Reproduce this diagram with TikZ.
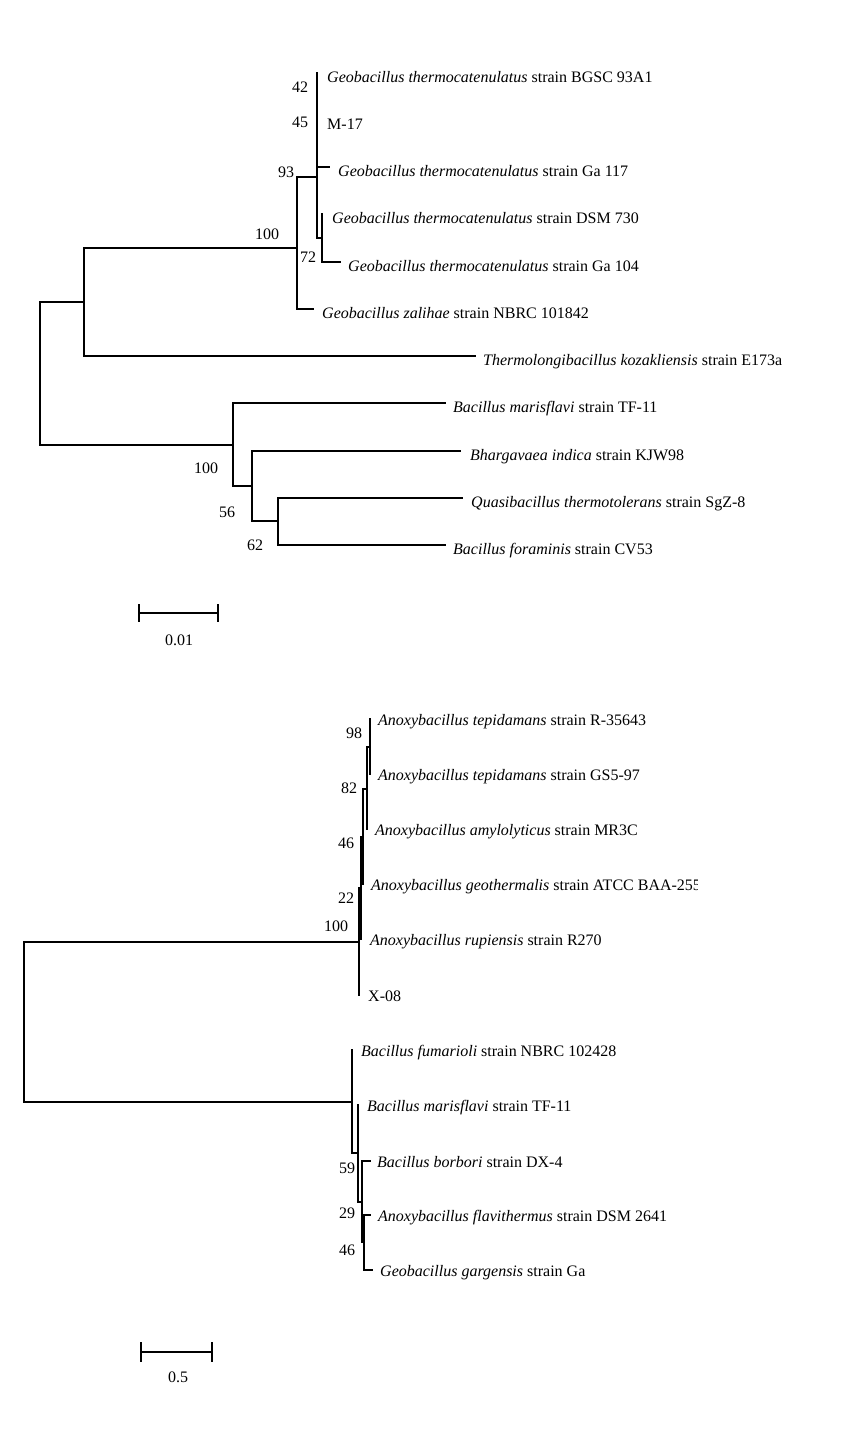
\documentclass[tikz,border=0pt]{standalone}
\usepackage{fontspec}
\setmainfont{Liberation Serif}
\begin{document}
\begin{tikzpicture}[x=1pt,y=-1pt,
  br/.style={line width=1.8pt, line cap=rect},
  leaf/.style={inner sep=0pt, anchor=base west, font=\fontsize{16}{19}\selectfont},
  boot/.style={inner sep=0pt, font=\fontsize{16}{19}\selectfont},
  scalebar/.style={line width=1.8pt}]
\useasboundingbox (0,0) rectangle (856,1452);
% ---------------- top tree ----------------
\coordinate (r) at (40,373);
\coordinate (a) at (84,302);
\coordinate (n100) at (297,248);
\coordinate (n93) at (317,177);
\coordinate (n45) at (317,140);
\coordinate (n42) at (317,96);
\coordinate (n72) at (322,238);
\coordinate (b) at (233,445);
\coordinate (n56) at (252,486);
\coordinate (n62) at (278,521);
\coordinate (t1) at (317,73);
\coordinate (t2) at (317,120);
\coordinate (t3) at (329,167);
\coordinate (t4) at (322,214);
\coordinate (t5) at (340,262);
\coordinate (t6) at (313,309);
\coordinate (t7) at (475,356);
\coordinate (t8) at (445,403);
\coordinate (t9) at (460,451);
\coordinate (t10) at (462,498);
\coordinate (t11) at (445,545);
\draw[br] (r) |- (a);
\draw[br] (r) |- (b);
\draw[br] (a) |- (n100);
\draw[br] (a) |- (t7);
\draw[br] (n100) |- (n93);
\draw[br] (n100) |- (t6);
\draw[br] (n93) |- (n45);
\draw[br] (n93) |- (n72);
\draw[br] (n45) |- (n42);
\draw[br] (n45) |- (t3);
\draw[br] (n42) |- (t1);
\draw[br] (n42) |- (t2);
\draw[br] (n72) |- (t4);
\draw[br] (n72) |- (t5);
\draw[br] (b) |- (t8);
\draw[br] (b) |- (n56);
\draw[br] (n56) |- (t9);
\draw[br] (n56) |- (n62);
\draw[br] (n62) |- (t10);
\draw[br] (n62) |- (t11);
\node[leaf] (l1) at ([xshift=10pt,yshift=-9pt]t1) {\textit{Geobacillus thermocatenulatus} strain BGSC 93A1};
\node[leaf] (l2) at ([xshift=10pt,yshift=-9pt]t2) {M-17};
\node[leaf] (l3) at ([xshift=9pt,yshift=-9pt]t3) {\textit{Geobacillus thermocatenulatus} strain Ga 117};
\node[leaf] (l4) at ([xshift=10pt,yshift=-9pt]t4) {\textit{Geobacillus thermocatenulatus} strain DSM 730};
\node[leaf] (l5) at ([xshift=8pt,yshift=-9pt]t5) {\textit{Geobacillus thermocatenulatus} strain Ga 104};
\node[leaf] (l6) at ([xshift=9pt,yshift=-9pt]t6) {\textit{Geobacillus zalihae} strain NBRC 101842};
\node[leaf] (l7) at ([xshift=8pt,yshift=-9pt]t7) {\textit{Thermolongibacillus kozakliensis} strain E173a};
\node[leaf] (l8) at ([xshift=8pt,yshift=-9pt]t8) {\textit{Bacillus marisflavi} strain TF-11};
\node[leaf] (l9) at ([xshift=10pt,yshift=-9pt]t9) {\textit{Bhargavaea indica} strain KJW98};
\node[leaf] (l10) at ([xshift=9pt,yshift=-9pt]t10) {\textit{Quasibacillus thermotolerans} strain SgZ-8};
\node[leaf] (l11) at ([xshift=8pt,yshift=-9pt]t11) {\textit{Bacillus foraminis} strain CV53};
\node[boot] (b42) at (300,87) {42};
\node[boot] (b45) at (300,122) {45};
\node[boot] (b93) at (286,172) {93};
\node[boot] (b100a) at (267,234) {100};
\node[boot] (b72) at (308,257) {72};
\node[boot] (b100b) at (206,468) {100};
\node[boot] (b56) at (227,512) {56};
\node[boot] (b62) at (255,545) {62};
% scale bar top
\coordinate (s1a) at (139,613);
\coordinate (s1b) at (218,613);
\draw[scalebar] (s1a) -- (s1b);
\draw[scalebar] ([yshift=9pt]s1a) -- ([yshift=-9pt]s1a);
\draw[scalebar] ([yshift=9pt]s1b) -- ([yshift=-9pt]s1b);
\node[boot] (sl1) at (179,640) {0.01};
% ---------------- bottom tree ----------------
\coordinate (R) at (24,1022);
\coordinate (m100) at (359,942);
\coordinate (m22) at (361,888);
\coordinate (m46) at (363,837);
\coordinate (m82) at (367,789);
\coordinate (m98) at (370,747);
\coordinate (lo) at (352,1102);
\coordinate (m59) at (358,1153);
\coordinate (m29) at (362,1202);
\coordinate (m46b) at (364,1242);
\coordinate (u1) at (370,719);
\coordinate (u2) at (370,774);
\coordinate (u3) at (367,829);
\coordinate (u4) at (363,884);
\coordinate (u5) at (361,939);
\coordinate (u6) at (359,995);
\coordinate (u7) at (352,1050);
\coordinate (u8) at (358,1105);
\coordinate (u9) at (370,1161);
\coordinate (u10) at (370,1215);
\coordinate (u11) at (372,1270);
\draw[br] (R) |- (m100);
\draw[br] (R) |- (lo);
\draw[br] (m100) |- (m22);
\draw[br] (m100) |- (u6);
\draw[br] (m22) |- (m46);
\draw[br] (m22) |- (u5);
\draw[br] (m46) |- (m82);
\draw[br] (m46) |- (u4);
\draw[br] (m82) |- (m98);
\draw[br] (m82) |- (u3);
\draw[br] (m98) |- (u1);
\draw[br] (m98) |- (u2);
\draw[br] (lo) |- (u7);
\draw[br] (lo) |- (m59);
\draw[br] (m59) |- (u8);
\draw[br] (m59) |- (m29);
\draw[br] (m29) |- (u9);
\draw[br] (m29) |- (m46b);
\draw[br] (m46b) |- (u10);
\draw[br] (m46b) |- (u11);
\node[leaf] (k1) at ([xshift=8pt,yshift=-6pt]u1) {\textit{Anoxybacillus tepidamans} strain R-35643};
\node[leaf] (k2) at ([xshift=8pt,yshift=-6pt]u2) {\textit{Anoxybacillus tepidamans} strain GS5-97};
\node[leaf] (k3) at ([xshift=8pt,yshift=-6pt]u3) {\textit{Anoxybacillus amylolyticus} strain MR3C};
\begin{scope}
\clip (0,0) rectangle (697,1452);
\node[leaf] (k4) at ([xshift=8pt,yshift=-6pt]u4) {\textit{Anoxybacillus geothermalis} strain ATCC BAA-2555};
\end{scope}
\node[leaf] (k5) at ([xshift=9pt,yshift=-6pt]u5) {\textit{Anoxybacillus rupiensis} strain R270};
\node[leaf] (k6) at ([xshift=9pt,yshift=-6pt]u6) {X-08};
\node[leaf] (k7) at ([xshift=9pt,yshift=-6pt]u7) {\textit{Bacillus fumarioli} strain NBRC 102428};
\node[leaf] (k8) at ([xshift=9pt,yshift=-6pt]u8) {\textit{Bacillus marisflavi} strain TF-11};
\node[leaf] (k9) at ([xshift=7pt,yshift=-6pt]u9) {\textit{Bacillus borbori} strain DX-4};
\node[leaf] (k10) at ([xshift=8pt,yshift=-6pt]u10) {\textit{Anoxybacillus flavithermus} strain DSM 2641};
\node[leaf] (k11) at ([xshift=8pt,yshift=-6pt]u11) {\textit{Geobacillus gargensis} strain Ga};
\node[boot] (c98) at (354,733) {98};
\node[boot] (c82) at (349,788) {82};
\node[boot] (c46) at (346,843) {46};
\node[boot] (c22) at (346,898) {22};
\node[boot] (c100) at (336,926) {100};
\node[boot] (c59) at (347,1168) {59};
\node[boot] (c29) at (347,1213) {29};
\node[boot] (c46b) at (347,1250) {46};
% scale bar bottom
\coordinate (s2a) at (141,1352);
\coordinate (s2b) at (212,1352);
\draw[scalebar] (s2a) -- (s2b);
\draw[scalebar] ([yshift=10pt]s2a) -- ([yshift=-10pt]s2a);
\draw[scalebar] ([yshift=10pt]s2b) -- ([yshift=-10pt]s2b);
\node[boot] (sl2) at (178,1377) {0.5};
\end{tikzpicture}
\end{document}
